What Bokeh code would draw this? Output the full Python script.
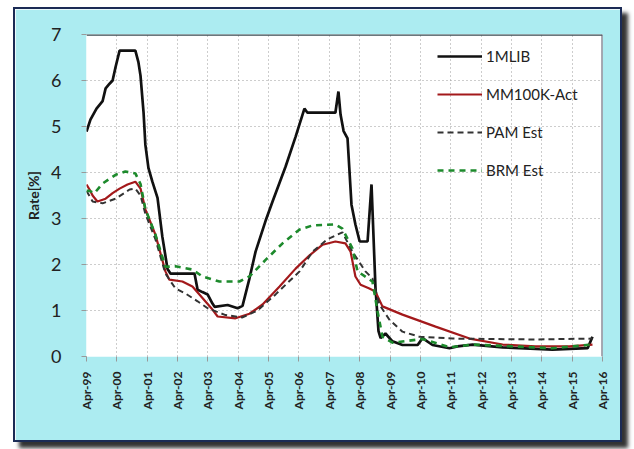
from bokeh.plotting import figure
from bokeh.models import Range1d, FixedTicker, Legend, LegendItem, Span, Spacer
from bokeh.layouts import row, column
from bokeh.embed import file_html
from bokeh.resources import INLINE
import math

# ---- data (decimal year, rate %) ----
tick_years = [1999.25 + i for i in range(18)]
tick_labels = ["Apr-%02d" % ((99 + i) % 100) for i in range(18)]

mlib_t = [1999.25, 1999.38, 1999.58, 1999.78, 1999.88, 2000.01, 2000.11, 2000.21, 2000.34, 2000.86,
          2000.96, 2001.03, 2001.13, 2001.19, 2001.29, 2001.42, 2001.59, 2001.75, 2001.92, 2002.02,
          2002.81, 2002.91, 2003.07, 2003.24, 2003.40, 2003.47, 2003.90, 2004.23, 2004.39, 2004.62,
          2004.82, 2005.15, 2005.38, 2005.81, 2006.14, 2006.43, 2006.53, 2007.45, 2007.55, 2007.62,
          2007.72, 2007.85, 2007.98, 2008.11, 2008.25, 2008.51, 2008.64, 2008.77, 2008.87, 2008.94,
          2009.10, 2009.33, 2009.66, 2010.16, 2010.32, 2010.65, 2011.21, 2011.47, 2011.97, 2012.96,
          2014.60, 2015.76, 2015.92]
mlib_v = [4.89, 5.15, 5.39, 5.55, 5.83, 5.93, 6.00, 6.30, 6.65, 6.65,
          6.40, 6.10, 5.30, 4.60, 4.10, 3.80, 3.45, 2.60, 1.90, 1.80,
          1.80, 1.45, 1.40, 1.35, 1.15, 1.08, 1.12, 1.05, 1.10, 1.70,
          2.28, 2.95, 3.37, 4.13, 4.78, 5.39, 5.30, 5.30, 5.76, 5.26,
          4.90, 4.74, 3.30, 2.87, 2.50, 2.50, 3.74, 1.50, 0.55, 0.40,
          0.50, 0.33, 0.25, 0.25, 0.40, 0.25, 0.18, 0.22, 0.26, 0.20,
          0.15, 0.18, 0.43]

mm_t = [1999.25, 1999.35, 1999.45, 1999.61, 1999.88, 2000.11, 2000.34, 2000.60, 2000.86, 2001.03,
        2001.19, 2001.52, 2001.85, 2001.98, 2002.41, 2002.74, 2003.07, 2003.40, 2003.57, 2004.16,
        2004.62, 2005.05, 2005.61, 2006.14, 2006.60, 2007.03, 2007.45, 2007.78, 2007.95, 2008.11,
        2008.28, 2008.57, 2008.77, 2009.00, 2009.66, 2010.75, 2011.87, 2012.96, 2014.04, 2015.16,
        2015.92]
mm_v = [3.74, 3.63, 3.50, 3.37, 3.43, 3.55, 3.65, 3.74, 3.80, 3.65,
        3.20, 2.65, 1.85, 1.67, 1.63, 1.52, 1.27, 1.02, 0.87, 0.83,
        0.93, 1.13, 1.52, 1.91, 2.20, 2.43, 2.50, 2.46, 2.28, 1.74,
        1.56, 1.48, 1.41, 1.09, 0.91, 0.65, 0.39, 0.26, 0.22, 0.22,
        0.26]

pam_t = [1999.25, 1999.45, 1999.78, 2000.21, 2000.67, 2000.86, 2001.03, 2001.19, 2001.52, 2001.85,
         2002.18, 2002.51, 2002.91, 2003.24, 2003.83, 2004.39, 2004.88, 2005.48, 2005.81, 2006.27,
         2006.70, 2007.19, 2007.68, 2008.01, 2008.44, 2008.67, 2008.90, 2009.23, 2009.66, 2010.22,
         2011.31, 2014.04, 2015.92]
pam_v = [3.60, 3.37, 3.33, 3.43, 3.63, 3.65, 3.50, 3.10, 2.55, 1.80,
         1.48, 1.37, 1.20, 1.05, 0.90, 0.85, 1.00, 1.35, 1.56, 1.85,
         2.28, 2.55, 2.70, 2.28, 1.85, 1.70, 1.13, 0.80, 0.54, 0.43,
         0.39, 0.37, 0.39]

brm_t = [1999.25, 1999.35, 1999.51, 1999.78, 2000.21, 2000.53, 2000.86, 2001.03, 2001.19, 2001.52,
         2001.85, 2002.18, 2002.74, 2003.07, 2003.63, 2004.29, 2004.62, 2005.15, 2005.71, 2006.27,
         2006.70, 2007.45, 2007.68, 2008.01, 2008.18, 2008.67, 2008.84, 2009.00, 2009.33, 2010.32,
         2011.21, 2011.97, 2014.60, 2015.92]
brm_v = [3.60, 3.60, 3.55, 3.76, 3.95, 4.02, 3.98, 3.75, 3.20, 2.65,
         1.95, 1.96, 1.89, 1.74, 1.63, 1.63, 1.74, 2.10, 2.46, 2.76,
         2.85, 2.87, 2.78, 2.35, 1.85, 1.63, 0.98, 0.43, 0.30, 0.38,
         0.20, 0.26, 0.18, 0.26]

# ---- figure ----
CYAN = "#acecf1"
p = figure(width=609, height=435, output_backend="svg", toolbar_location=None,
           x_range=Range1d(1999.25, 2016.25), y_range=Range1d(0, 7),
           min_border_left=71, min_border_right=22, min_border_top=25, min_border_bottom=88)
p.border_fill_color = CYAN
p.background_fill_color = "white"
p.outline_line_color = None
p.styles = {"border": "2px solid #1b2b55", "box-shadow": "6px 6px 4px #333",
            "box-sizing": "border-box"}

for g in (p.xgrid, p.ygrid):
    g.grid_line_color = "#9a9a9a"
    g.grid_line_dash = "1 3"
    g.grid_line_width = 1

p.xaxis.ticker = FixedTicker(ticks=tick_years)
p.xaxis.major_label_overrides = {t: l for t, l in zip(tick_years, tick_labels)}
p.xaxis.major_label_orientation = math.pi / 2
p.xaxis.major_label_text_font = "Lato"
p.xaxis.major_label_text_font_size = "12px"
p.xaxis.major_label_text_font_style = "bold"
p.xaxis.major_label_text_color = "#222"
p.xaxis.major_label_standoff = 10

p.yaxis.ticker = FixedTicker(ticks=list(range(8)))
p.yaxis.major_label_text_font = "Lato"
p.yaxis.major_label_text_font_size = "18px"
p.yaxis.major_label_text_color = "#222"
p.yaxis.major_label_standoff = 20
p.yaxis.axis_label = "Rate[%]"
p.yaxis.axis_label_text_font = "Lato"
p.yaxis.axis_label_text_font_size = "14px"
p.yaxis.axis_label_text_font_style = "bold"
p.yaxis.axis_label_text_color = "#222"
p.yaxis.axis_label_standoff = 6

for ax in (p.xaxis, p.yaxis):
    ax.axis_line_color = None
    ax.major_tick_line_color = "#999"
    ax.major_tick_in = 0
    ax.major_tick_out = 5
    ax.minor_tick_line_color = None

p.add_layout(Span(location=7, dimension="width", line_color="#3a4a50", line_width=2.5))
p.add_layout(Span(location=2016.25, dimension="height", line_color="#556", line_width=2))

r_mlib = p.line(mlib_t, mlib_v, line_color="#111111", line_width=2.7)
r_mm = p.line(mm_t, mm_v, line_color="#a3191b", line_width=2.2)
r_pam = p.line(pam_t, pam_v, line_color="#333333", line_width=2, line_dash="6 4")
r_brm = p.line(brm_t, brm_v, line_color="#1d8a2c", line_width=2.6, line_dash="6 5")

legend = Legend(items=[LegendItem(label="1MLIB", renderers=[r_mlib]),
                       LegendItem(label="MM100K-Act", renderers=[r_mm]),
                       LegendItem(label="PAM Est", renderers=[r_pam]),
                       LegendItem(label="BRM Est", renderers=[r_brm])],
                location=(351, 176))
legend.background_fill_alpha = 0
legend.border_line_color = None
legend.padding = 0
legend.margin = 0
legend.glyph_width = 45
legend.glyph_height = 20
legend.spacing = 18
legend.label_standoff = 4
legend.label_text_font = "Lato"
legend.label_text_font_size = "15px"
legend.label_text_color = "#222"
p.add_layout(legend)

layout = column(Spacer(height=7), row(Spacer(width=13), p))
open("out.html", "w").write(file_html(layout, INLINE))
